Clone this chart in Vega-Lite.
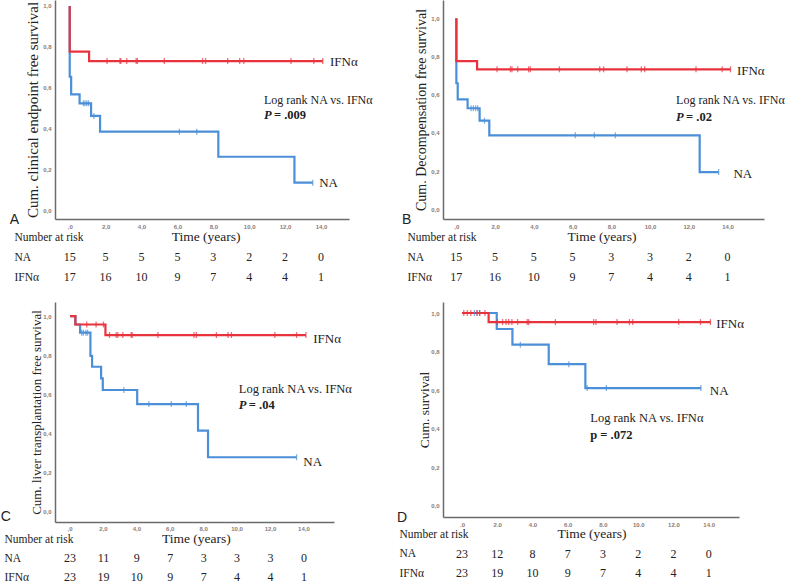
{
"$schema": "https://vega.github.io/schema/vega-lite/v6.json",
"padding": 0,
"background": "white",
"config": {
 "view": {"stroke": null},
 "axis": {"grid": false, "ticks": false, "domainColor": "#6b6b6b", "domainWidth": 1.5, "labelFont": "Liberation Sans", "labelFontSize": 6, "labelFontWeight": "bold", "labelColor": "#8c7b77", "labelPadding": 4, "labelOverlap": false, "titleFont": "Liberation Serif", "titleFontWeight": "normal", "titleColor": "#222222"},
 "text": {"font": "Liberation Serif", "color": "#222222", "baseline": "middle", "align": "left"},
 "line": {"strokeWidth": 2.2},
 "tick": {"thickness": 1.3, "size": 6}
},
"datasets": {
 "curve": [
  {"p":"A","g":"NA","k":0,"t":0,"s":1},{"p":"A","g":"NA","k":1,"t":0,"s":0.653},{"p":"A","g":"NA","k":2,"t":0.08,"s":0.567},{"p":"A","g":"NA","k":3,"t":0.55,"s":0.523},{"p":"A","g":"NA","k":4,"t":1.19,"s":0.461},{"p":"A","g":"NA","k":5,"t":1.69,"s":0.384},{"p":"A","g":"NA","k":6,"t":8.28,"s":0.261},{"p":"A","g":"NA","k":7,"t":12.52,"s":0.134},{"p":"A","g":"NA","k":8,"t":13.54,"s":0.134},
  {"p":"A","g":"IFNα","k":0,"t":0,"s":1},{"p":"A","g":"IFNα","k":1,"t":0,"s":0.776},{"p":"A","g":"IFNα","k":2,"t":1.08,"s":0.73},{"p":"A","g":"IFNα","k":3,"t":14.1,"s":0.73},
  {"p":"B","g":"NA","k":0,"t":0,"s":1},{"p":"B","g":"NA","k":1,"t":0,"s":0.66},{"p":"B","g":"NA","k":2,"t":0.07,"s":0.576},{"p":"B","g":"NA","k":3,"t":0.58,"s":0.529},{"p":"B","g":"NA","k":4,"t":1.2,"s":0.464},{"p":"B","g":"NA","k":5,"t":1.7,"s":0.387},{"p":"B","g":"NA","k":6,"t":12.56,"s":0.195},{"p":"B","g":"NA","k":7,"t":13.54,"s":0.195},
  {"p":"B","g":"IFNα","k":0,"t":0,"s":1},{"p":"B","g":"IFNα","k":1,"t":0,"s":0.776},{"p":"B","g":"IFNα","k":2,"t":1.07,"s":0.733},{"p":"B","g":"IFNα","k":3,"t":14.15,"s":0.733},
  {"p":"C","g":"NA","k":0,"t":0,"s":1},{"p":"C","g":"NA","k":1,"t":0.32,"s":0.957},{"p":"C","g":"NA","k":2,"t":0.6,"s":0.915},{"p":"C","g":"NA","k":3,"t":1.22,"s":0.796},{"p":"C","g":"NA","k":4,"t":1.32,"s":0.741},{"p":"C","g":"NA","k":5,"t":1.86,"s":0.681},{"p":"C","g":"NA","k":6,"t":1.96,"s":0.622},{"p":"C","g":"NA","k":7,"t":4.02,"s":0.55},{"p":"C","g":"NA","k":8,"t":7.66,"s":0.414},{"p":"C","g":"NA","k":9,"t":8.26,"s":0.278},{"p":"C","g":"NA","k":10,"t":13.56,"s":0.278},
  {"p":"C","g":"IFNα","k":0,"t":0,"s":1},{"p":"C","g":"IFNα","k":1,"t":0.32,"s":0.957},{"p":"C","g":"IFNα","k":2,"t":2.12,"s":0.903},{"p":"C","g":"IFNα","k":3,"t":14.12,"s":0.903},
  {"p":"D","g":"NA","k":0,"t":0,"s":1},{"p":"D","g":"NA","k":1,"t":1.97,"s":0.917},{"p":"D","g":"NA","k":2,"t":2.86,"s":0.836},{"p":"D","g":"NA","k":3,"t":4.92,"s":0.735},{"p":"D","g":"NA","k":4,"t":7.0,"s":0.611},{"p":"D","g":"NA","k":5,"t":13.56,"s":0.611},
  {"p":"D","g":"IFNα","k":0,"t":0,"s":1},{"p":"D","g":"IFNα","k":1,"t":1.51,"s":0.953},{"p":"D","g":"IFNα","k":2,"t":14.1,"s":0.953}
 ],
 "cens": [
  {"p":"A","g":"NA","t":0.76,"s":0.523},{"p":"A","g":"NA","t":0.85,"s":0.523},{"p":"A","g":"NA","t":0.95,"s":0.523},{"p":"A","g":"NA","t":1.05,"s":0.523},{"p":"A","g":"NA","t":1.35,"s":0.461},{"p":"A","g":"NA","t":6.11,"s":0.384},{"p":"A","g":"NA","t":7.08,"s":0.384},{"p":"A","g":"NA","t":13.54,"s":0.134},
  {"p":"A","g":"IFNα","t":2.08,"s":0.73},{"p":"A","g":"IFNα","t":2.8,"s":0.73},{"p":"A","g":"IFNα","t":2.85,"s":0.73},{"p":"A","g":"IFNα","t":3.18,"s":0.73},{"p":"A","g":"IFNα","t":3.7,"s":0.73},{"p":"A","g":"IFNα","t":3.77,"s":0.73},{"p":"A","g":"IFNα","t":5.27,"s":0.73},{"p":"A","g":"IFNα","t":7.4,"s":0.73},{"p":"A","g":"IFNα","t":7.57,"s":0.73},{"p":"A","g":"IFNα","t":8.8,"s":0.73},{"p":"A","g":"IFNα","t":9.47,"s":0.73},{"p":"A","g":"IFNα","t":9.7,"s":0.73},{"p":"A","g":"IFNα","t":12.33,"s":0.73},{"p":"A","g":"IFNα","t":13.6,"s":0.73},{"p":"A","g":"IFNα","t":14.1,"s":0.73},
  {"p":"B","g":"NA","t":0.76,"s":0.529},{"p":"B","g":"NA","t":0.88,"s":0.529},{"p":"B","g":"NA","t":1.0,"s":0.529},{"p":"B","g":"NA","t":1.1,"s":0.529},{"p":"B","g":"NA","t":1.45,"s":0.464},{"p":"B","g":"NA","t":6.14,"s":0.387},{"p":"B","g":"NA","t":7.12,"s":0.387},{"p":"B","g":"NA","t":8.21,"s":0.387},{"p":"B","g":"NA","t":13.54,"s":0.195},
  {"p":"B","g":"IFNα","t":2.1,"s":0.733},{"p":"B","g":"IFNα","t":2.79,"s":0.733},{"p":"B","g":"IFNα","t":2.87,"s":0.733},{"p":"B","g":"IFNα","t":3.17,"s":0.733},{"p":"B","g":"IFNα","t":3.73,"s":0.733},{"p":"B","g":"IFNα","t":3.82,"s":0.733},{"p":"B","g":"IFNα","t":5.32,"s":0.733},{"p":"B","g":"IFNα","t":7.4,"s":0.733},{"p":"B","g":"IFNα","t":7.6,"s":0.733},{"p":"B","g":"IFNα","t":8.81,"s":0.733},{"p":"B","g":"IFNα","t":9.55,"s":0.733},{"p":"B","g":"IFNα","t":9.72,"s":0.733},{"p":"B","g":"IFNα","t":12.37,"s":0.733},{"p":"B","g":"IFNα","t":13.72,"s":0.733},{"p":"B","g":"IFNα","t":14.15,"s":0.733},
  {"p":"C","g":"NA","t":0.7,"s":0.915},{"p":"C","g":"NA","t":0.8,"s":0.915},{"p":"C","g":"NA","t":0.95,"s":0.915},{"p":"C","g":"NA","t":1.05,"s":0.915},{"p":"C","g":"NA","t":3.22,"s":0.622},{"p":"C","g":"NA","t":4.72,"s":0.55},{"p":"C","g":"NA","t":6.06,"s":0.55},{"p":"C","g":"NA","t":6.96,"s":0.55},{"p":"C","g":"NA","t":13.56,"s":0.278},
  {"p":"C","g":"IFNα","t":1.0,"s":0.957},{"p":"C","g":"IFNα","t":1.56,"s":0.957},{"p":"C","g":"IFNα","t":2.0,"s":0.957},{"p":"C","g":"IFNα","t":2.36,"s":0.903},{"p":"C","g":"IFNα","t":2.76,"s":0.903},{"p":"C","g":"IFNα","t":2.86,"s":0.903},{"p":"C","g":"IFNα","t":3.16,"s":0.903},{"p":"C","g":"IFNα","t":3.66,"s":0.903},{"p":"C","g":"IFNα","t":3.72,"s":0.903},{"p":"C","g":"IFNα","t":5.26,"s":0.903},{"p":"C","g":"IFNα","t":7.42,"s":0.903},{"p":"C","g":"IFNα","t":7.56,"s":0.903},{"p":"C","g":"IFNα","t":8.76,"s":0.903},{"p":"C","g":"IFNα","t":9.46,"s":0.903},{"p":"C","g":"IFNα","t":9.66,"s":0.903},{"p":"C","g":"IFNα","t":12.26,"s":0.903},{"p":"C","g":"IFNα","t":13.56,"s":0.903},{"p":"C","g":"IFNα","t":14.12,"s":0.903},
  {"p":"D","g":"NA","t":0.7,"s":1},{"p":"D","g":"NA","t":0.85,"s":1},{"p":"D","g":"NA","t":1.0,"s":1},{"p":"D","g":"NA","t":3.31,"s":0.836},{"p":"D","g":"NA","t":6.06,"s":0.735},{"p":"D","g":"NA","t":7.1,"s":0.611},{"p":"D","g":"NA","t":8.19,"s":0.611},{"p":"D","g":"NA","t":13.56,"s":0.611},
  {"p":"D","g":"IFNα","t":0.1,"s":1},{"p":"D","g":"IFNα","t":0.3,"s":1},{"p":"D","g":"IFNα","t":0.5,"s":1},{"p":"D","g":"IFNα","t":0.85,"s":1},{"p":"D","g":"IFNα","t":1.0,"s":1},{"p":"D","g":"IFNα","t":1.3,"s":1},{"p":"D","g":"IFNα","t":2.0,"s":0.953},{"p":"D","g":"IFNα","t":2.3,"s":0.953},{"p":"D","g":"IFNα","t":2.5,"s":0.953},{"p":"D","g":"IFNα","t":2.65,"s":0.953},{"p":"D","g":"IFNα","t":2.83,"s":0.953},{"p":"D","g":"IFNα","t":3.16,"s":0.953},{"p":"D","g":"IFNα","t":3.7,"s":0.953},{"p":"D","g":"IFNα","t":3.78,"s":0.953},{"p":"D","g":"IFNα","t":5.3,"s":0.953},{"p":"D","g":"IFNα","t":7.47,"s":0.953},{"p":"D","g":"IFNα","t":7.6,"s":0.953},{"p":"D","g":"IFNα","t":8.8,"s":0.953},{"p":"D","g":"IFNα","t":9.5,"s":0.953},{"p":"D","g":"IFNα","t":9.69,"s":0.953},{"p":"D","g":"IFNα","t":12.3,"s":0.953},{"p":"D","g":"IFNα","t":13.53,"s":0.953},{"p":"D","g":"IFNα","t":14.1,"s":0.953}
 ],
 "risk": [
  {"p":"A","row":"NA","t":0,"n":15},{"p":"A","row":"NA","t":2,"n":5},{"p":"A","row":"NA","t":4,"n":5},{"p":"A","row":"NA","t":6,"n":5},{"p":"A","row":"NA","t":8,"n":3},{"p":"A","row":"NA","t":10,"n":2},{"p":"A","row":"NA","t":12,"n":2},{"p":"A","row":"NA","t":14,"n":0},
  {"p":"A","row":"IFNα","t":0,"n":17},{"p":"A","row":"IFNα","t":2,"n":16},{"p":"A","row":"IFNα","t":4,"n":10},{"p":"A","row":"IFNα","t":6,"n":9},{"p":"A","row":"IFNα","t":8,"n":7},{"p":"A","row":"IFNα","t":10,"n":4},{"p":"A","row":"IFNα","t":12,"n":4},{"p":"A","row":"IFNα","t":14,"n":1},
  {"p":"B","row":"NA","t":0,"n":15},{"p":"B","row":"NA","t":2,"n":5},{"p":"B","row":"NA","t":4,"n":5},{"p":"B","row":"NA","t":6,"n":5},{"p":"B","row":"NA","t":8,"n":3},{"p":"B","row":"NA","t":10,"n":3},{"p":"B","row":"NA","t":12,"n":2},{"p":"B","row":"NA","t":14,"n":0},
  {"p":"B","row":"IFNα","t":0,"n":17},{"p":"B","row":"IFNα","t":2,"n":16},{"p":"B","row":"IFNα","t":4,"n":10},{"p":"B","row":"IFNα","t":6,"n":9},{"p":"B","row":"IFNα","t":8,"n":7},{"p":"B","row":"IFNα","t":10,"n":4},{"p":"B","row":"IFNα","t":12,"n":4},{"p":"B","row":"IFNα","t":14,"n":1},
  {"p":"C","row":"NA","t":0,"n":23},{"p":"C","row":"NA","t":2,"n":11},{"p":"C","row":"NA","t":4,"n":9},{"p":"C","row":"NA","t":6,"n":7},{"p":"C","row":"NA","t":8,"n":3},{"p":"C","row":"NA","t":10,"n":3},{"p":"C","row":"NA","t":12,"n":3},{"p":"C","row":"NA","t":14,"n":0},
  {"p":"C","row":"IFNα","t":0,"n":23},{"p":"C","row":"IFNα","t":2,"n":19},{"p":"C","row":"IFNα","t":4,"n":10},{"p":"C","row":"IFNα","t":6,"n":9},{"p":"C","row":"IFNα","t":8,"n":7},{"p":"C","row":"IFNα","t":10,"n":4},{"p":"C","row":"IFNα","t":12,"n":4},{"p":"C","row":"IFNα","t":14,"n":1},
  {"p":"D","row":"NA","t":0,"n":23},{"p":"D","row":"NA","t":2,"n":12},{"p":"D","row":"NA","t":4,"n":8},{"p":"D","row":"NA","t":6,"n":7},{"p":"D","row":"NA","t":8,"n":3},{"p":"D","row":"NA","t":10,"n":2},{"p":"D","row":"NA","t":12,"n":2},{"p":"D","row":"NA","t":14,"n":0},
  {"p":"D","row":"IFNα","t":0,"n":23},{"p":"D","row":"IFNα","t":2,"n":19},{"p":"D","row":"IFNα","t":4,"n":10},{"p":"D","row":"IFNα","t":6,"n":9},{"p":"D","row":"IFNα","t":8,"n":7},{"p":"D","row":"IFNα","t":10,"n":4},{"p":"D","row":"IFNα","t":12,"n":4},{"p":"D","row":"IFNα","t":14,"n":1}
 ],
 "cticks": [
  {"v":0,"lab":",0"},{"v":2,"lab":"2,0"},{"v":4,"lab":"4,0"},{"v":6,"lab":"6,0"},{"v":8,"lab":"8,0"},{"v":10,"lab":"10,0"},{"v":12,"lab":"12,0"},{"v":14,"lab":"14,0"}
 ]
},
"columns": 2,
"spacing": {"row": 0, "column": 94},
"bounds": "flush",
"align": "each",
"concat": [
 {
  "width": 294, "height": 219,
  "layer": [
   {"data": {"name": "curve"}, "transform": [{"filter": "datum.p=='A' && datum.g=='NA'"}], "mark": {"type": "line", "interpolate": "step-after", "color": "#4b8fd8"},
    "encoding": {"order": {"field": "k", "type": "quantitative"},
     "x": {"field": "t", "type": "quantitative", "scale": {"domain": [-0.82, 15.56], "nice": false, "zero": false}, "axis": {"values": [0,2,4,6,8,10,12,14], "labelOverlap": false, "labelExpr": "datum.value==0 ? ',0' : replace(format(datum.value,'.1f'),'.',',')", "title": null}},
     "y": {"field": "s", "type": "quantitative", "scale": {"domain": [-0.044, 1.029], "nice": false, "zero": false}, "axis": {"values": [0,0.2,0.4,0.6,0.8,1], "labelExpr": "replace(format(datum.value,'.1f'),'.',',')", "title": "Cum. clinical endpoint free survival", "titleFontSize": 15, "titlePadding": 2}}}},
   {"data": {"name": "curve"}, "transform": [{"filter": "datum.p=='A' && datum.g=='IFNα'"}], "mark": {"type": "line", "interpolate": "step-after", "color": "#e8323c"},
    "encoding": {"order": {"field": "k", "type": "quantitative"},
     "x": {"field": "t", "type": "quantitative", "scale": {"domain": [-0.82, 15.56], "nice": false, "zero": false}},
     "y": {"field": "s", "type": "quantitative", "scale": {"domain": [-0.044, 1.029], "nice": false, "zero": false}}}},
   {"data": {"name": "cens"}, "transform": [{"filter": "datum.p=='A' && datum.g=='NA'"}], "mark": {"type": "tick", "orient": "vertical", "color": "#4b8fd8"},
    "encoding": {"x": {"field": "t", "type": "quantitative", "scale": {"domain": [-0.82, 15.56], "nice": false, "zero": false}}, "y": {"field": "s", "type": "quantitative", "scale": {"domain": [-0.044, 1.029], "nice": false, "zero": false}}}},
   {"data": {"name": "cens"}, "transform": [{"filter": "datum.p=='A' && datum.g=='IFNα'"}], "mark": {"type": "tick", "orient": "vertical", "color": "#e8323c"},
    "encoding": {"x": {"field": "t", "type": "quantitative", "scale": {"domain": [-0.82, 15.56], "nice": false, "zero": false}}, "y": {"field": "s", "type": "quantitative", "scale": {"domain": [-0.044, 1.029], "nice": false, "zero": false}}}},
   {"data": {"values": [{}]}, "mark": {"type": "text", "fontSize": 13, "text": "IFNα"}, "encoding": {"x": {"datum": 14.5}, "y": {"datum": 0.725}}},
   {"data": {"values": [{}]}, "mark": {"type": "text", "fontSize": 13, "text": "NA"}, "encoding": {"x": {"datum": 13.9}, "y": {"datum": 0.132}}},
   {"data": {"values": [{}]}, "mark": {"type": "text", "fontSize": 12, "text": "Log rank NA vs. IFNα"}, "encoding": {"x": {"datum": 10.82}, "y": {"datum": 0.539}}},
   {"data": {"values": [{}]}, "mark": {"type": "text", "fontSize": 12.5, "fontWeight": "bold", "fontStyle": "italic", "text": "P"}, "encoding": {"x": {"datum": 10.82}, "y": {"datum": 0.466}}},
   {"data": {"values": [{}]}, "mark": {"type": "text", "fontSize": 12.5, "fontWeight": "bold", "dx": 10, "text": "= .009"}, "encoding": {"x": {"datum": 10.82}, "y": {"datum": 0.466}}},
   {"data": {"values": [{}]}, "mark": {"type": "text", "font": "Liberation Sans", "fontSize": 14, "text": "A"}, "encoding": {"x": {"datum": -3.34}, "y": {"datum": -0.049}}}
  ]
 },
 {
  "width": 321, "height": 219,
  "layer": [
   {"data": {"name": "curve"}, "transform": [{"filter": "datum.p=='B' && datum.g=='NA'"}], "mark": {"type": "line", "interpolate": "step-after", "color": "#4b8fd8"},
    "encoding": {"order": {"field": "k", "type": "quantitative"},
     "x": {"field": "t", "type": "quantitative", "scale": {"domain": [-0.69, 15.88], "nice": false, "zero": false}, "axis": {"values": [0,2,4,6,8,10,12,14], "labelOverlap": false, "labelExpr": "datum.value==0 ? ',0' : replace(format(datum.value,'.1f'),'.',',')", "title": null}},
     "y": {"field": "s", "type": "quantitative", "scale": {"domain": [-0.051, 1.096], "nice": false, "zero": false}, "axis": {"values": [0,0.2,0.4,0.6,0.8,1], "labelExpr": "replace(format(datum.value,'.1f'),'.',',')", "title": "Cum. Decompensation free survival", "titleFontSize": 14, "titlePadding": 2}}}},
   {"data": {"name": "curve"}, "transform": [{"filter": "datum.p=='B' && datum.g=='IFNα'"}], "mark": {"type": "line", "interpolate": "step-after", "color": "#e8323c"},
    "encoding": {"order": {"field": "k", "type": "quantitative"},
     "x": {"field": "t", "type": "quantitative", "scale": {"domain": [-0.69, 15.88], "nice": false, "zero": false}},
     "y": {"field": "s", "type": "quantitative", "scale": {"domain": [-0.051, 1.096], "nice": false, "zero": false}}}},
   {"data": {"name": "cens"}, "transform": [{"filter": "datum.p=='B' && datum.g=='NA'"}], "mark": {"type": "tick", "orient": "vertical", "color": "#4b8fd8"},
    "encoding": {"x": {"field": "t", "type": "quantitative", "scale": {"domain": [-0.69, 15.88], "nice": false, "zero": false}}, "y": {"field": "s", "type": "quantitative", "scale": {"domain": [-0.051, 1.096], "nice": false, "zero": false}}}},
   {"data": {"name": "cens"}, "transform": [{"filter": "datum.p=='B' && datum.g=='IFNα'"}], "mark": {"type": "tick", "orient": "vertical", "color": "#e8323c"},
    "encoding": {"x": {"field": "t", "type": "quantitative", "scale": {"domain": [-0.69, 15.88], "nice": false, "zero": false}}, "y": {"field": "s", "type": "quantitative", "scale": {"domain": [-0.051, 1.096], "nice": false, "zero": false}}}},
   {"data": {"values": [{}]}, "mark": {"type": "text", "fontSize": 13, "text": "IFNα"}, "encoding": {"x": {"datum": 14.48}, "y": {"datum": 0.724}}},
   {"data": {"values": [{}]}, "mark": {"type": "text", "fontSize": 13, "text": "NA"}, "encoding": {"x": {"datum": 14.3}, "y": {"datum": 0.185}}},
   {"data": {"values": [{}]}, "mark": {"type": "text", "fontSize": 12, "text": "Log rank NA vs. IFNα"}, "encoding": {"x": {"datum": 11.34}, "y": {"datum": 0.572}}},
   {"data": {"values": [{}]}, "mark": {"type": "text", "fontSize": 12.5, "fontWeight": "bold", "fontStyle": "italic", "text": "P"}, "encoding": {"x": {"datum": 11.34}, "y": {"datum": 0.485}}},
   {"data": {"values": [{}]}, "mark": {"type": "text", "fontSize": 12.5, "fontWeight": "bold", "dx": 10, "text": "= .02"}, "encoding": {"x": {"datum": 11.34}, "y": {"datum": 0.485}}},
   {"data": {"values": [{}]}, "mark": {"type": "text", "font": "Liberation Sans", "fontSize": 14, "text": "B"}, "encoding": {"x": {"datum": -2.8}, "y": {"datum": -0.056}}}
  ]
 },
 {
  "width": 294, "height": 83,
  "layer": [
   {"data": {"name": "risk"}, "transform": [{"filter": "datum.p=='A'"}], "mark": {"type": "text", "align": "center", "fontSize": 12},
    "encoding": {"text": {"field": "n", "type": "quantitative"},
     "x": {"field": "t", "type": "quantitative", "scale": {"domain": [-0.82, 15.56], "nice": false, "zero": false}, "axis": null},
     "y": {"field": "row", "type": "ordinal", "scale": {"type": "point", "domain": ["Number at risk", "NA", "IFNα"], "range": [18, 58], "padding": 0}, "axis": {"domain": false, "ticks": false, "labelAlign": "left", "labelPadding": 41, "labelFont": "Liberation Serif", "labelFontSize": 11.5, "labelFontWeight": "normal", "labelColor": "#222222", "title": null}}}},
   {"data": {"values": [{}]}, "mark": {"type": "text", "align": "center", "fontSize": 13.5, "text": "Time (years)"}, "encoding": {"x": {"datum": 7.6}, "y": {"datum": "Number at risk", "type": "ordinal"}}}
  ]
 },
 {
  "width": 321, "height": 83,
  "layer": [
   {"data": {"name": "risk"}, "transform": [{"filter": "datum.p=='B'"}], "mark": {"type": "text", "align": "center", "fontSize": 12},
    "encoding": {"text": {"field": "n", "type": "quantitative"},
     "x": {"field": "t", "type": "quantitative", "scale": {"domain": [-0.69, 15.88], "nice": false, "zero": false}, "axis": null},
     "y": {"field": "row", "type": "ordinal", "scale": {"type": "point", "domain": ["Number at risk", "NA", "IFNα"], "range": [18, 58], "padding": 0}, "axis": {"domain": false, "ticks": false, "labelAlign": "left", "labelPadding": 36, "labelFont": "Liberation Serif", "labelFontSize": 11.5, "labelFontWeight": "normal", "labelColor": "#222222", "title": null}}}},
   {"data": {"values": [{}]}, "mark": {"type": "text", "align": "center", "fontSize": 13.5, "text": "Time (years)"}, "encoding": {"x": {"datum": 7.52}, "y": {"datum": "Number at risk", "type": "ordinal"}}}
  ]
 },
 {
  "width": 279, "height": 220,
  "layer": [
   {"data": {"name": "curve"}, "transform": [{"filter": "datum.p=='C' && datum.g=='NA'"}], "mark": {"type": "line", "interpolate": "step-after", "color": "#4b8fd8"},
    "encoding": {"order": {"field": "k", "type": "quantitative"},
     "x": {"field": "t", "type": "quantitative", "scale": {"domain": [-0.9, 15.8], "nice": false, "zero": false}, "axis": {"values": [0,2,4,6,8,10,12,14], "labels": false, "title": null}},
     "y": {"field": "s", "type": "quantitative", "scale": {"domain": [-0.053, 1.072], "nice": false, "zero": false}, "axis": {"values": [0,0.2,0.4,0.6,0.8,1], "labelExpr": "replace(format(datum.value,'.1f'),'.',',')", "title": "Cum. liver transplantation free survival", "titleFontSize": 13, "titlePadding": -1}}}},
   {"data": {"name": "curve"}, "transform": [{"filter": "datum.p=='C' && datum.g=='IFNα'"}], "mark": {"type": "line", "interpolate": "step-after", "color": "#e8323c"},
    "encoding": {"order": {"field": "k", "type": "quantitative"},
     "x": {"field": "t", "type": "quantitative", "scale": {"domain": [-0.9, 15.8], "nice": false, "zero": false}},
     "y": {"field": "s", "type": "quantitative", "scale": {"domain": [-0.053, 1.072], "nice": false, "zero": false}}}},
   {"data": {"name": "cens"}, "transform": [{"filter": "datum.p=='C' && datum.g=='NA'"}], "mark": {"type": "tick", "orient": "vertical", "color": "#4b8fd8"},
    "encoding": {"x": {"field": "t", "type": "quantitative", "scale": {"domain": [-0.9, 15.8], "nice": false, "zero": false}}, "y": {"field": "s", "type": "quantitative", "scale": {"domain": [-0.053, 1.072], "nice": false, "zero": false}}}},
   {"data": {"name": "cens"}, "transform": [{"filter": "datum.p=='C' && datum.g=='IFNα'"}], "mark": {"type": "tick", "orient": "vertical", "color": "#e8323c"},
    "encoding": {"x": {"field": "t", "type": "quantitative", "scale": {"domain": [-0.9, 15.8], "nice": false, "zero": false}}, "y": {"field": "s", "type": "quantitative", "scale": {"domain": [-0.053, 1.072], "nice": false, "zero": false}}}},
   {"data": {"name": "cticks"}, "mark": {"type": "text", "font": "Liberation Sans", "fontSize": 6, "fontWeight": "bold", "color": "#8c7b77", "align": "center", "baseline": "top", "dy": 4},
    "encoding": {"x": {"field": "v", "type": "quantitative", "scale": {"domain": [-0.9, 15.8], "nice": false, "zero": false}}, "y": {"datum": -0.053}, "text": {"field": "lab", "type": "nominal"}}},
   {"data": {"values": [{}]}, "mark": {"type": "text", "fontSize": 13, "text": "IFNα"}, "encoding": {"x": {"datum": 14.56}, "y": {"datum": 0.881}}},
   {"data": {"values": [{}]}, "mark": {"type": "text", "fontSize": 13, "text": "NA"}, "encoding": {"x": {"datum": 13.96}, "y": {"datum": 0.255}}},
   {"data": {"values": [{}]}, "mark": {"type": "text", "fontSize": 12.5, "text": "Log rank NA vs. IFNα"}, "encoding": {"x": {"datum": 10.1}, "y": {"datum": 0.627}}},
   {"data": {"values": [{}]}, "mark": {"type": "text", "fontSize": 12.5, "fontWeight": "bold", "fontStyle": "italic", "text": "P"}, "encoding": {"x": {"datum": 10.1}, "y": {"datum": 0.545}}},
   {"data": {"values": [{}]}, "mark": {"type": "text", "fontSize": 12.5, "fontWeight": "bold", "dx": 10, "text": "= .04"}, "encoding": {"x": {"datum": 10.1}, "y": {"datum": 0.545}}},
   {"data": {"values": [{}]}, "mark": {"type": "text", "font": "Liberation Sans", "fontSize": 14, "text": "C"}, "encoding": {"x": {"datum": -4.14}, "y": {"datum": -0.029}}}
  ]
 },
 {
  "width": 296, "height": 215,
  "layer": [
   {"data": {"name": "curve"}, "transform": [{"filter": "datum.p=='D' && datum.g=='NA'"}], "mark": {"type": "line", "interpolate": "step-after", "color": "#4b8fd8"},
    "encoding": {"order": {"field": "k", "type": "quantitative"},
     "x": {"field": "t", "type": "quantitative", "scale": {"domain": [-1.08, 15.72], "nice": false, "zero": false}, "axis": {"values": [0,2,4,6,8,10,12,14], "labelOverlap": false, "labelExpr": "datum.value==0 ? '.0' : format(datum.value,'.1f')", "title": null}},
     "y": {"field": "s", "type": "quantitative", "scale": {"domain": [-0.057, 1.057], "nice": false, "zero": false}, "axis": {"values": [0,0.2,0.4,0.6,0.8,1], "labelExpr": "replace(format(datum.value,'.1f'),'.',',')", "title": "Cum. survival", "titleFontSize": 13.5, "titlePadding": -1}}}},
   {"data": {"name": "curve"}, "transform": [{"filter": "datum.p=='D' && datum.g=='IFNα'"}], "mark": {"type": "line", "interpolate": "step-after", "color": "#e8323c"},
    "encoding": {"order": {"field": "k", "type": "quantitative"},
     "x": {"field": "t", "type": "quantitative", "scale": {"domain": [-1.08, 15.72], "nice": false, "zero": false}},
     "y": {"field": "s", "type": "quantitative", "scale": {"domain": [-0.057, 1.057], "nice": false, "zero": false}}}},
   {"data": {"name": "cens"}, "transform": [{"filter": "datum.p=='D' && datum.g=='NA'"}], "mark": {"type": "tick", "orient": "vertical", "color": "#4b8fd8"},
    "encoding": {"x": {"field": "t", "type": "quantitative", "scale": {"domain": [-1.08, 15.72], "nice": false, "zero": false}}, "y": {"field": "s", "type": "quantitative", "scale": {"domain": [-0.057, 1.057], "nice": false, "zero": false}}}},
   {"data": {"name": "cens"}, "transform": [{"filter": "datum.p=='D' && datum.g=='IFNα'"}], "mark": {"type": "tick", "orient": "vertical", "color": "#e8323c"},
    "encoding": {"x": {"field": "t", "type": "quantitative", "scale": {"domain": [-1.08, 15.72], "nice": false, "zero": false}}, "y": {"field": "s", "type": "quantitative", "scale": {"domain": [-0.057, 1.057], "nice": false, "zero": false}}}},
   {"data": {"values": [{}]}, "mark": {"type": "text", "fontSize": 13, "text": "IFNα"}, "encoding": {"x": {"datum": 14.43}, "y": {"datum": 0.941}}},
   {"data": {"values": [{}]}, "mark": {"type": "text", "fontSize": 13, "text": "NA"}, "encoding": {"x": {"datum": 14.06}, "y": {"datum": 0.596}}},
   {"data": {"values": [{}]}, "mark": {"type": "text", "fontSize": 12.5, "text": "Log rank NA vs. IFNα"}, "encoding": {"x": {"datum": 7.28}, "y": {"datum": 0.457}}},
   {"data": {"values": [{}]}, "mark": {"type": "text", "fontSize": 12.5, "fontWeight": "bold", "text": "p = .072"}, "encoding": {"x": {"datum": 7.28}, "y": {"datum": 0.368}}},
   {"data": {"values": [{}]}, "mark": {"type": "text", "font": "Liberation Sans", "fontSize": 14, "text": "D"}, "encoding": {"x": {"datum": -3.69}, "y": {"datum": -0.061}}}
  ]
 },
 {
  "width": 279, "height": 58,
  "layer": [
   {"data": {"name": "risk"}, "transform": [{"filter": "datum.p=='C'"}], "mark": {"type": "text", "align": "center", "fontSize": 12},
    "encoding": {"text": {"field": "n", "type": "quantitative"},
     "x": {"field": "t", "type": "quantitative", "scale": {"domain": [-0.9, 15.8], "nice": false, "zero": false}, "axis": null},
     "y": {"field": "row", "type": "ordinal", "scale": {"type": "point", "domain": ["Number at risk", "NA", "IFNα"], "range": [17, 55], "padding": 0}, "axis": {"domain": false, "ticks": false, "labelAlign": "left", "labelPadding": 51, "labelFont": "Liberation Serif", "labelFontSize": 11.5, "labelFontWeight": "normal", "labelColor": "#222222", "title": null}}}},
   {"data": {"values": [{}]}, "mark": {"type": "text", "align": "center", "fontSize": 13.5, "text": "Time (years)"}, "encoding": {"x": {"datum": 7.56}, "y": {"datum": "Number at risk", "type": "ordinal"}}}
  ]
 },
 {
  "width": 296, "height": 58,
  "layer": [
   {"data": {"name": "risk"}, "transform": [{"filter": "datum.p=='D'"}], "mark": {"type": "text", "align": "center", "fontSize": 12},
    "encoding": {"text": {"field": "n", "type": "quantitative"},
     "x": {"field": "t", "type": "quantitative", "scale": {"domain": [-1.08, 15.72], "nice": false, "zero": false}, "axis": null},
     "y": {"field": "row", "type": "ordinal", "scale": {"type": "point", "domain": ["Number at risk", "NA", "IFNα"], "range": [12, 51], "padding": 0}, "axis": {"domain": false, "ticks": false, "labelAlign": "left", "labelPadding": 44, "labelFont": "Liberation Serif", "labelFontSize": 11.5, "labelFontWeight": "normal", "labelColor": "#222222", "title": null}}}},
   {"data": {"values": [{}]}, "mark": {"type": "text", "align": "center", "fontSize": 13.5, "text": "Time (years)"}, "encoding": {"x": {"datum": 7.38}, "y": {"datum": "Number at risk", "type": "ordinal"}}}
  ]
 }
]
}
